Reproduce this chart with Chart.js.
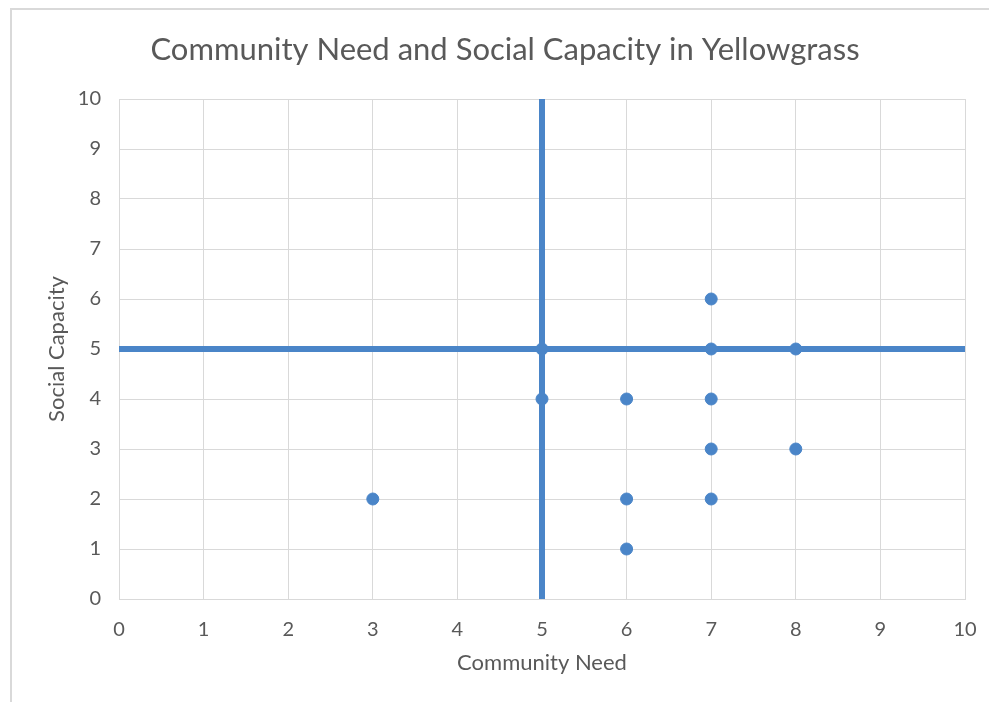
<!DOCTYPE html>
<html>
<head>
<meta charset="utf-8">
<title>Community Need and Social Capacity in Yellowgrass</title>
<script src="https://cdn.jsdelivr.net/npm/chart.js@4.4.1/dist/chart.umd.min.js"></script>
<style>
  html, body { margin: 0; padding: 0; background: #fff; overflow: hidden; }
  #frame {
    position: absolute; left: 10px; top: 8px;
    width: 1010px; height: 720px;
    border: 2px solid #d9d9d9;
  }
  #wrap { position: absolute; left: 0; top: 0; width: 989px; height: 702px; }
</style>
</head>
<body>
<div id="frame"></div>
<div id="wrap"><canvas id="needChart"></canvas></div>
<script>
// --- chart data ---
const communityNeed = [5, 5, 6, 7, 7, 7, 7, 7, 8, 8, 3, 6, 6];
const socialCapacity = [5, 4, 4, 6, 5, 4, 3, 2, 5, 3, 2, 2, 1];

// quadrant divider lines (x = 5 and y = 5)
const needSplitX = [5, 5];
const needSplitY = [0, 10];
const capacitySplitX = [0, 10];
const capacitySplitY = [5, 5];

const axisTicks = [0, 1, 2, 3, 4, 5, 6, 7, 8, 9, 10];

const chartTitle = 'Community Need and Social Capacity in Yellowgrass';
const blue = '#4a85c8';
const textGrey = '#595959';
const gridGrey = '#d9d9d9';

function toPoints(xs, ys) {
  return xs.map((x, i) => ({ x: x, y: ys[i] }));
}

// title is drawn by hand so it can sit centred on the whole frame
const titlePlugin = {
  id: 'frameTitle',
  afterDraw(chart) {
    const ctx = chart.ctx;
    ctx.save();
    ctx.font = '31px Lato';
    ctx.fillStyle = textGrey;
    ctx.textAlign = 'center';
    ctx.textBaseline = 'alphabetic';
    ctx.fillText(chartTitle, 505, 60);
    ctx.restore();
  }
};

const lineStyle = {
  type: 'scatter',
  showLine: true,
  borderColor: blue,
  borderWidth: 6,
  pointRadius: 0,
  pointHoverRadius: 0,
  fill: false
};

new Chart(document.getElementById('needChart').getContext('2d'), {
  type: 'scatter',
  data: {
    datasets: [
      Object.assign({ label: 'Need split', data: toPoints(needSplitX, needSplitY) }, lineStyle),
      Object.assign({ label: 'Capacity split', data: toPoints(capacitySplitX, capacitySplitY) }, lineStyle),
      {
        label: 'Households',
        data: toPoints(communityNeed, socialCapacity),
        backgroundColor: blue,
        borderColor: blue,
        borderWidth: 1,
        pointRadius: 6
      }
    ]
  },
  options: {
    responsive: true,
    maintainAspectRatio: false,
    animation: false,
    layout: { padding: { top: 99, right: 24, bottom: 0, left: 0 } },
    plugins: {
      legend: { display: false },
      title: { display: false },
      tooltip: { enabled: false }
    },
    scales: {
      x: {
        type: 'linear',
        min: 0,
        max: 10,
        afterFit: (scale) => {
          scale.height = 103;
          scale.paddingLeft = 0;
          scale.paddingRight = 0;
        },
        afterBuildTicks: (scale) => { scale.ticks = axisTicks.map(v => ({ value: v })); },
        grid: { color: gridGrey, lineWidth: 1, drawTicks: false },
        border: { color: gridGrey, width: 1 },
        ticks: { padding: 19, color: textGrey, font: { family: 'Lato', size: 20 } },
        title: {
          display: true,
          text: 'Community Need',
          color: textGrey,
          font: { family: 'Lato', size: 22 },
          padding: { top: 0, bottom: 26 }
        }
      },
      y: {
        type: 'linear',
        min: 0,
        max: 10,
        afterFit: (scale) => { scale.width = 119; },
        afterBuildTicks: (scale) => { scale.ticks = axisTicks.map(v => ({ value: v })); },
        grid: { color: gridGrey, lineWidth: 1, drawTicks: false },
        border: { color: gridGrey, width: 1 },
        ticks: { padding: 18, color: textGrey, font: { family: 'Lato', size: 20 } },
        title: {
          display: true,
          text: 'Social Capacity',
          color: textGrey,
          font: { family: 'Lato', size: 22 },
          padding: { top: 44, bottom: 0 }
        }
      }
    }
  },
  plugins: [titlePlugin]
});
</script>
</body>
</html>
